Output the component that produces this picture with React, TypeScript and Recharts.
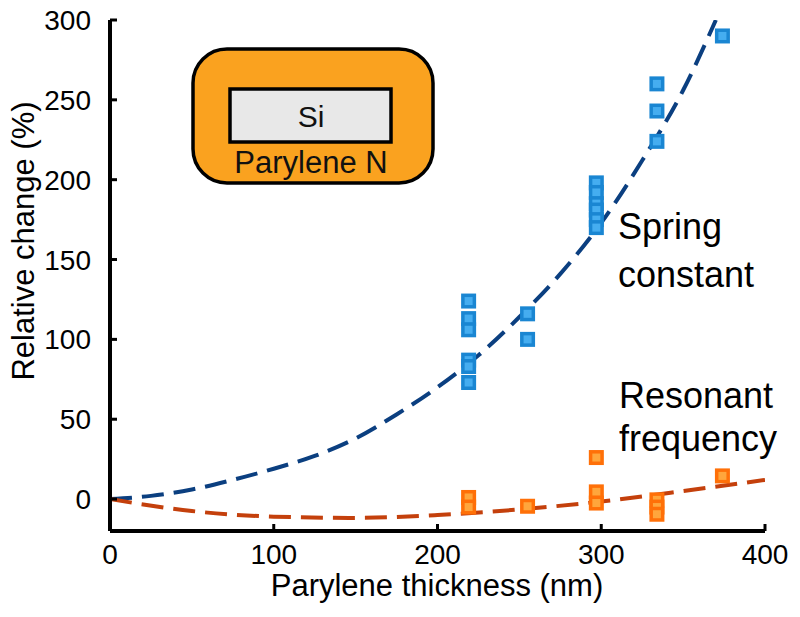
import React from "react";
import { ComposedChart, Line, Scatter, XAxis, YAxis } from "recharts";

// measured points (thickness nm, relative change %)
const springX = [219, 219, 219, 219, 219, 219, 255, 255, 297, 297, 297, 297, 297, 297, 334, 334, 334, 374];
const springY = [124, 113, 106, 87, 83, 73, 116, 100, 198, 192, 185, 181, 175, 170, 260, 243, 224, 290];
const freqX = [219, 219, 255, 297, 297, 297, 334, 334, 334, 374];
const freqY = [1, -5, -4.5, 26, 4.5, -2.5, -0.5, -5, -9.5, 14.5];

// dashed fit curves
const springFitX = [0, 25, 50, 75, 100, 125, 150, 175, 200, 225, 250, 275, 300, 325, 350, 370];
const springFitY = [0, 2, 6, 12, 19, 27, 38, 53, 70, 90, 114, 141, 173, 212, 256, 300];
const freqFitX = [0, 50, 100, 150, 200, 250, 300, 350, 400];
const freqFitY = [0, -7.5, -11, -11.8, -10, -6.5, -1.5, 5, 12];

const xTicks = [0, 100, 200, 300, 400];
const yTicks = [0, 50, 100, 150, 200, 250, 300];

const zip = (xs: number[], ys: number[]) => xs.map((x, i) => ({ x, y: ys[i] }));

const springPts = zip(springX, springY);
const freqPts = zip(freqX, freqY);
const springFit = zip(springFitX, springFitY);
const freqFit = zip(freqFitX, freqFitY);

const FONT = "'Liberation Sans', Arial, sans-serif";

function squareShape(outer: string, inner: string) {
  return (props: any) => {
    const { cx, cy } = props;
    return (
      <g>
        <rect x={cx - 7.5} y={cy - 7.5} width={15} height={15} fill={outer} />
        <rect x={cx - 4} y={cy - 4} width={8} height={8} fill={inner} />
      </g>
    );
  };
}

function XTick({ x, y, payload }: any) {
  return (
    <g>
      <line x1={x} x2={x} y1={y} y2={y - 7} stroke="#000" strokeWidth={3} />
      <text x={x} y={y + 33} textAnchor="middle" fontSize={28} fontFamily={FONT} fill="#000">
        {payload.value}
      </text>
    </g>
  );
}

function YTick({ x, y, payload }: any) {
  return (
    <g>
      <line x1={x} x2={x + 7} y1={y} y2={y} stroke="#000" strokeWidth={3} />
      <text x={x - 19} y={y + 10} textAnchor="end" fontSize={28} fontFamily={FONT} fill="#000">
        {payload.value}
      </text>
    </g>
  );
}

export default function App() {
  return (
    <div style={{ position: "absolute", left: 0, top: 0, width: 800, height: 617, background: "#fff" }}>
      <ComposedChart width={800} height={617} margin={{ top: 20, right: 35, left: 0, bottom: 0 }}>
        <XAxis
          dataKey="x"
          type="number"
          domain={[0, 400]}
          ticks={xTicks}
          height={86}
          tickSize={0}
          tickMargin={0}
          tickLine={false}
          tick={<XTick />}
          axisLine={{ stroke: "#000", strokeWidth: 4 }}
          allowDataOverflow
        />
        <YAxis
          dataKey="y"
          type="number"
          domain={[-20, 300]}
          ticks={yTicks}
          width={110}
          tickSize={0}
          tickMargin={0}
          tickLine={false}
          tick={<YTick />}
          axisLine={{ stroke: "#000", strokeWidth: 4 }}
          allowDataOverflow
        />
        <Line data={springFit} dataKey="y" type="monotone" stroke="#0b3f80" strokeWidth={4}
          strokeDasharray="22 10" dot={false} isAnimationActive={false} />
        <Line data={freqFit} dataKey="y" type="monotone" stroke="#c4400c" strokeWidth={4}
          strokeDasharray="22 10" dot={false} isAnimationActive={false} />
        <Scatter data={springPts} dataKey="y" shape={squareShape("#1a86d2", "#45adf0")} isAnimationActive={false} />
        <Scatter data={freqPts} dataKey="y" shape={squareShape("#ff7008", "#ffa63c")} isAnimationActive={false} />
      </ComposedChart>

      <svg width={800} height={617} style={{ position: "absolute", left: 0, top: 0, pointerEvents: "none" }}
        fontFamily={FONT}>
        {/* inset: Si beam coated with parylene */}
        <rect x={193} y={49} width={240} height={134} rx={34} fill="#faa21f" stroke="#000" strokeWidth={3.5} />
        <rect x={230} y={89} width={161} height={53} fill="#e8e8e8" stroke="#000" strokeWidth={3.5} />
        <text x={311} y={127} textAnchor="middle" fontSize={30} fill="#111">Si</text>
        <text x={311} y={173} textAnchor="middle" fontSize={31} fill="#111">Parylene N</text>

        <text x={618} y={239} fontSize={36} fill="#000">Spring</text>
        <text x={618} y={287} fontSize={36} fill="#000">constant</text>
        <text x={619} y={408} fontSize={36} fill="#000">Resonant</text>
        <text x={619} y={451} fontSize={36} fill="#000">frequency</text>

        <text x={437} y={596} textAnchor="middle" fontSize={31} fill="#000">Parylene thickness (nm)</text>
        <text transform="translate(34,241) rotate(-90)" textAnchor="middle" fontSize={31} fill="#000">
          Relative change (%)
        </text>
      </svg>
    </div>
  );
}
